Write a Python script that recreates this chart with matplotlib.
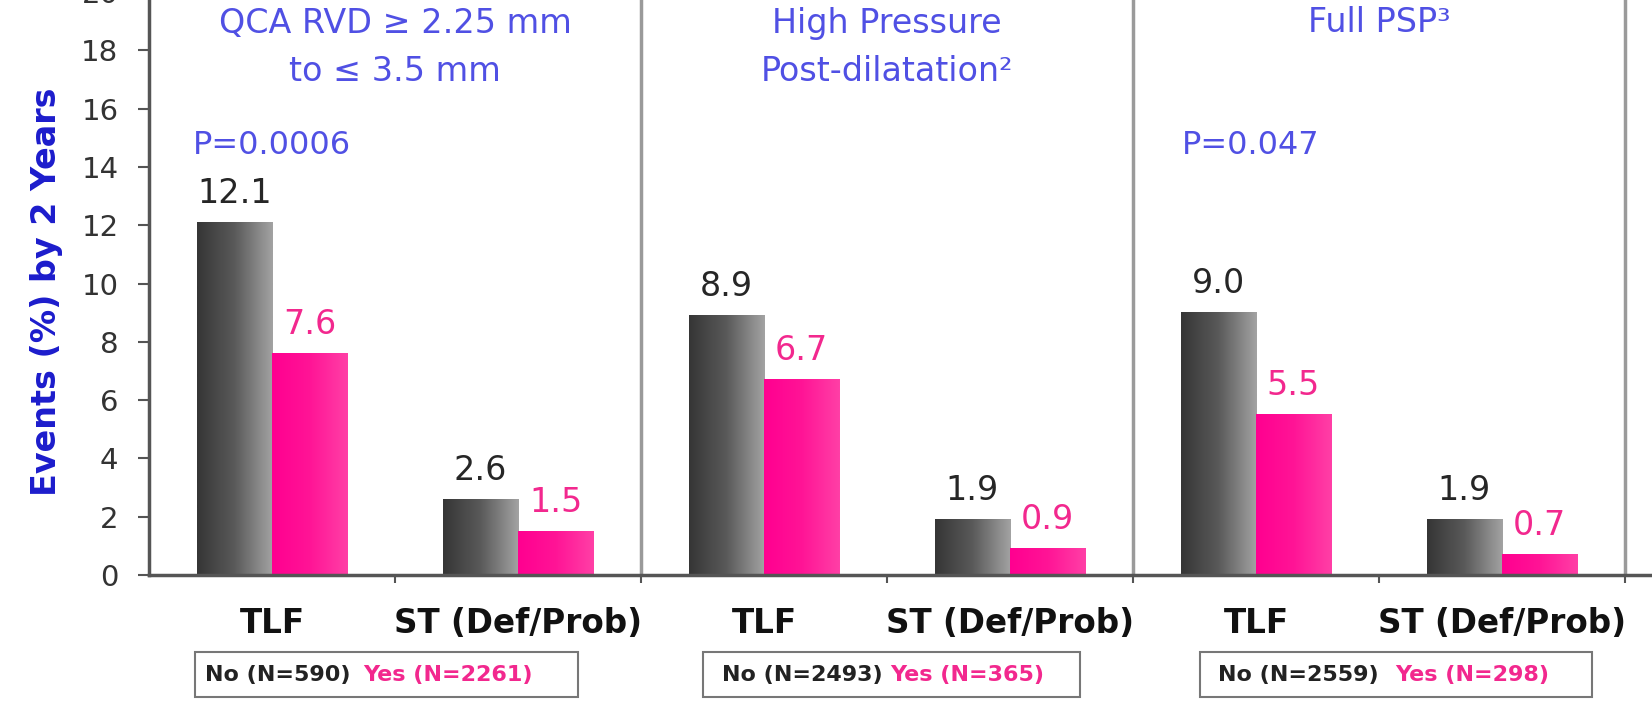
import numpy as np
import matplotlib
matplotlib.use("Agg")
import matplotlib.pyplot as plt
from matplotlib.colors import LinearSegmentedColormap
from matplotlib.patches import Rectangle

# данные
panel_titles = ["QCA RVD \u2265 2.25 mm\nto \u2264 3.5 mm",
                "High Pressure\nPost-dilatation\u00b2",
                "Full PSP\u00b3"]
p_values = ["P=0.0006", "", "P=0.047"]
categories = ["TLF", "ST (Def/Prob)"]
no_values = [[12.1, 2.6], [8.9, 1.9], [9.0, 1.9]]
yes_values = [[7.6, 1.5], [6.7, 0.9], [5.5, 0.7]]
legend_no = ["No (N=590)", "No (N=2493)", "No (N=2559)"]
legend_yes = ["Yes (N=2261)", "Yes (N=365)", "Yes (N=298)"]
y_ticks = [0, 2, 4, 6, 8, 10, 12, 14, 16, 18, 20]

PINK_TXT = "#f2288e"
BLUE = "#5050e4"

W, H = 16.52, 7.03
fig = plt.figure(figsize=(W, H), dpi=100)
ax = fig.add_axes([0.0902, 0.182, 0.9098, 0.8417])

gray_cmap = LinearSegmentedColormap.from_list("g", ["#363636", "#5a5a5a", "#a2a2a2"])
pink_cmap = LinearSegmentedColormap.from_list("p", ["#ff0090", "#ff1496", "#ff3fa6"])
grad = np.linspace(0, 1, 64).reshape(1, -1)

bw = 0.305
for i in range(3):
    for j in range(2):
        xc = 2 * i + 0.5 + j
        for val, x0, cmap, col in [(no_values[i][j], xc - bw, gray_cmap, "#262626"),
                                   (yes_values[i][j], xc, pink_cmap, PINK_TXT)]:
            ax.imshow(grad, cmap=cmap, extent=(x0, x0 + bw, 0, val),
                      aspect="auto", zorder=2, interpolation="bilinear")
            ax.annotate(f"{val:.1f}", (x0 + bw / 2, val), xytext=(0, 14),
                        textcoords="offset points", ha="center", va="baseline",
                        fontsize=24, color=col)
        ax.text(xc, -1.65, categories[j], ha="center", va="center",
                fontsize=23.5, fontweight="bold", color="#111111", clip_on=False)
    # заголовки панелей
    ax.text(2 * i + 1, 18.1 if "\n" in panel_titles[i] else 18.94, panel_titles[i],
            ha="center", va="center", fontsize=24, color=BLUE, linespacing=1.55)
    if p_values[i]:
        ax.text(2 * i + 0.18 + 0.01 * i, 14.75, p_values[i], ha="left", va="center",
                fontsize=23, color=BLUE)
    ax.axvline(2 * i + 2, color="#9a9a9a", lw=2.5, zorder=1)

ax.set_xlim(0, 6.11)
ax.set_ylim(0, 20.3)
ax.set_yticks(y_ticks)
ax.set_xticks([1, 2, 3, 4, 5, 6])
ax.set_xticklabels([])
ax.tick_params(axis="y", direction="out", length=8, width=1.5, pad=14,
               labelsize=21, labelcolor="#333333", color="#555555")
ax.tick_params(axis="x", direction="out", length=6, width=1.5, color="#555555")
for s in ["top", "right"]:
    ax.spines[s].set_visible(False)
for s in ["left", "bottom"]:
    ax.spines[s].set_color("#555555")
    ax.spines[s].set_linewidth(2.5)

fig.text(47 / 1652, 0.585, "Events (%) by 2 Years", rotation=90, ha="center",
         va="center", fontsize=24, fontweight="bold", color="#1c1ccc")

# подписи групп в рамках
boxes = [(195, 578, 205, 363), (703, 1080, 722, 890), (1200, 1592, 1218, 1395)]
for k, (bx0, bx1, tx_no, tx_yes) in enumerate(boxes):
    y0, y1 = 652, 697
    fig.patches.append(Rectangle((bx0 / 1652, 1 - y1 / 703), (bx1 - bx0) / 1652,
                                 (y1 - y0) / 703, transform=fig.transFigure,
                                 fill=False, edgecolor="#777777", lw=1.5))
    fig.text(tx_no / 1652, 1 - 675 / 703, legend_no[k], ha="left", va="center",
             fontsize=16, fontweight="bold", color="#222222")
    fig.text(tx_yes / 1652, 1 - 675 / 703, legend_yes[k], ha="left", va="center",
             fontsize=16, fontweight="bold", color=PINK_TXT)

fig.savefig("out.png", dpi=100)
